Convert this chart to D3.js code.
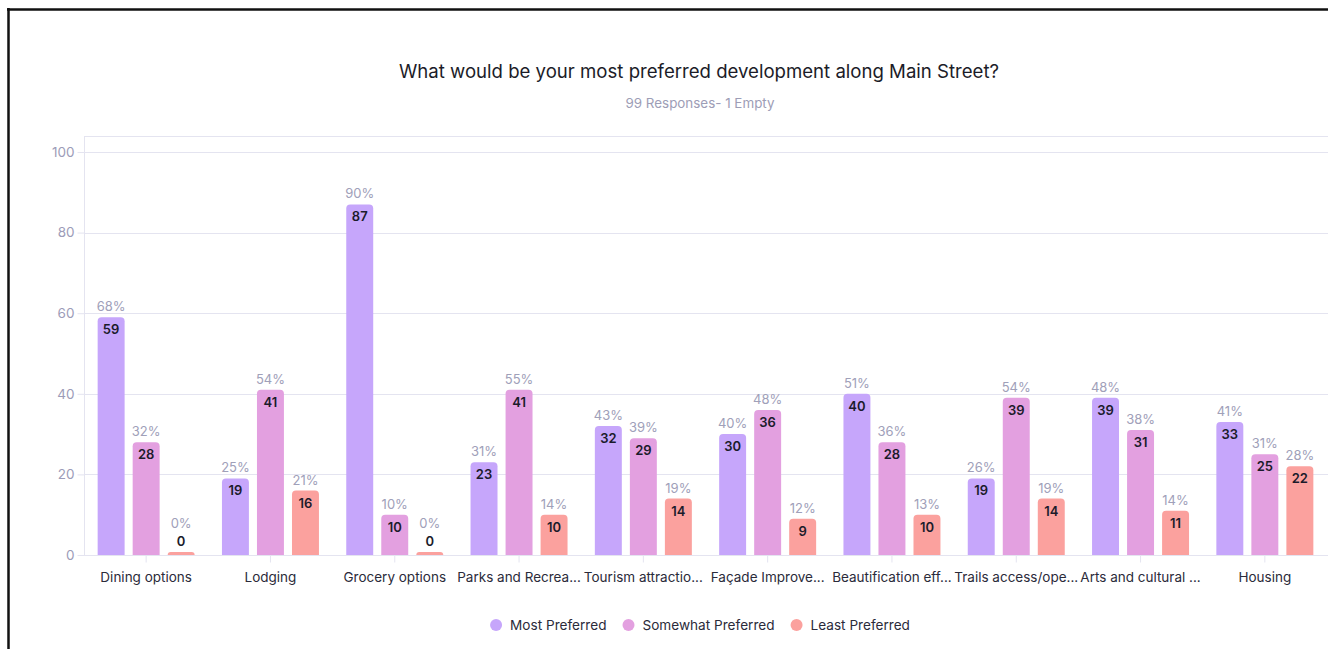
<!DOCTYPE html>
<html>
<head>
<meta charset="utf-8">
<script src="https://cdn.jsdelivr.net/npm/d3@7"></script>
<style>
  html, body { margin: 0; padding: 0; background: #fff; }
  svg { display: block; font-family: Inter, "Noto Sans", sans-serif; }
</style>
</head>
<body>
<div id="chart"></div>
<script>
// Chart data
var categories = ["Dining options", "Lodging", "Grocery options", "Parks and Recrea...",
  "Tourism attractio...", "Façade Improve...", "Beautification eff...",
  "Trails access/ope...", "Arts and cultural ...", "Housing"];
var seriesNames = ["Most Preferred", "Somewhat Preferred", "Least Preferred"];
var mostPreferred = [59, 19, 87, 23, 32, 30, 40, 19, 39, 33];
var somewhatPreferred = [28, 41, 10, 41, 29, 36, 28, 39, 31, 25];
var leastPreferred = [0, 16, 0, 10, 14, 9, 10, 14, 11, 22];
var mostPct = [68, 25, 90, 31, 43, 40, 51, 26, 48, 41];
var somewhatPct = [32, 54, 10, 55, 39, 48, 36, 54, 38, 31];
var leastPct = [0, 21, 0, 14, 19, 12, 13, 19, 14, 28];
var yTicks = [0, 20, 40, 60, 80, 100];
var colors = ["#c6a6fb", "#e3a0e0", "#fba19e"];

var width = 1328, height = 649;
var margin = {left: 84, right: 1, top: 136, bottom: 94};

var values = [mostPreferred, somewhatPreferred, leastPreferred];
var pcts = [mostPct, somewhatPct, leastPct];

var svg = d3.select("#chart").append("svg")
    .attr("width", width)
    .attr("height", height);

// Frame (screenshot border)
svg.append("line")
    .attr("x1", 8.5).attr("x2", 8.5)
    .attr("y1", 8).attr("y2", height)
    .style("stroke", "#111").style("stroke-width", 2.5);
svg.append("line")
    .attr("x1", 7).attr("x2", width)
    .attr("y1", 9.5).attr("y2", 9.5)
    .style("stroke", "#111").style("stroke-width", 2.5);

// Title
svg.append("text")
    .attr("x", 699).attr("y", 78)
    .attr("text-anchor", "middle")
    .style("font-size", "18.6px")
    .style("fill", "#1c1c28")
    .text("What would be your most preferred development along Main Street?");
svg.append("text")
    .attr("x", 700).attr("y", 108)
    .attr("text-anchor", "middle")
    .style("font-size", "13.4px")
    .style("fill", "#9d9db6")
    .text("99 Responses- 1 Empty");

var x0 = d3.scaleBand()
    .domain(categories)
    .range([margin.left, width - margin.right]);

var x1 = d3.scaleBand()
    .domain(d3.range(3))
    .range([-48.5, 48.5])
    .paddingInner(0.23);

var y = d3.scaleLinear()
    .domain([0, 100])
    .range([height - margin.bottom, 152]);

var plotBottom = y(0);

// Grid
var grid = svg.append("g").attr("class", "grid");
grid.selectAll("line")
    .data(yTicks)
  .enter().append("line")
    .attr("x1", margin.left).attr("x2", width)
    .attr("y1", function(d) { return Math.round(y(d)) + 0.5; })
    .attr("y2", function(d) { return Math.round(y(d)) + 0.5; })
    .style("stroke", "#e4e4f0").style("stroke-width", 1);
grid.append("line")
    .attr("x1", margin.left).attr("x2", width)
    .attr("y1", margin.top + 0.5).attr("y2", margin.top + 0.5)
    .style("stroke", "#e4e4f0");

// Y axis
var yAxis = svg.append("g")
    .attr("transform", "translate(" + (margin.left + 0.5) + ",0)")
    .call(d3.axisLeft(y).tickValues(yTicks).tickSize(7).tickPadding(3));
yAxis.select(".domain").remove();
yAxis.append("line")
    .attr("y1", margin.top).attr("y2", plotBottom)
    .style("stroke", "#e4e4f0");
yAxis.selectAll(".tick line").style("stroke", "#e4e4f0");
yAxis.selectAll(".tick text")
    .style("font-size", "13.5px")
    .style("font-family", "Inter, 'Noto Sans', sans-serif")
    .style("fill", "#9c9cb8");

// X axis
var xAxis = svg.append("g")
    .attr("transform", "translate(0," + (Math.round(plotBottom) + 0.5) + ")")
    .call(d3.axisBottom(x0).tickSize(7).tickPadding(10));
xAxis.select(".domain").remove();
xAxis.selectAll(".tick line").style("stroke", "#e4e4f0");
xAxis.selectAll(".tick text")
    .style("font-size", "13.5px")
    .style("font-family", "Inter, 'Noto Sans', sans-serif")
    .style("fill", "#2b2b3a");

// Bars
function barPath(x, top, w, bottom, r) {
  var h = bottom - top;
  r = Math.min(r, h, w / 2);
  return "M" + x + "," + bottom +
    "V" + (top + r) +
    "Q" + x + "," + top + " " + (x + r) + "," + top +
    "H" + (x + w - r) +
    "Q" + (x + w) + "," + top + " " + (x + w) + "," + (top + r) +
    "V" + bottom + "Z";
}

var rows = [];
categories.forEach(function(c, i) {
  for (var s = 0; s < 3; s++) {
    rows.push({cat: c, s: s, v: values[s][i], p: pcts[s][i]});
  }
});

var group = svg.append("g").attr("class", "bars");

var bar = group.selectAll(".bar")
    .data(rows)
  .enter().append("g")
    .attr("class", "bar")
    .attr("transform", function(d) {
      return "translate(" + (x0(d.cat) + x0.bandwidth() / 2 + x1(d.s)) + ",0)";
    });

bar.append("path")
    .attr("d", function(d) {
      var top = Math.min(y(d.v), plotBottom - 3);
      return barPath(0, top, x1.bandwidth(), plotBottom, 4);
    })
    .style("fill", function(d) { return colors[d.s]; });

bar.append("text")
    .attr("x", x1.bandwidth() / 2)
    .attr("y", function(d) {
      var h = plotBottom - y(d.v);
      return h < 20 ? plotBottom - 9 : y(d.v) + 17;
    })
    .attr("text-anchor", "middle")
    .style("font-size", "13px")
    .style("font-weight", 600)
    .style("fill", "#1b1b2b")
    .text(function(d) { return d.v; });

bar.append("text")
    .attr("x", x1.bandwidth() / 2)
    .attr("y", function(d) {
      var h = plotBottom - y(d.v);
      return h < 20 ? plotBottom - 27 : y(d.v) - 6;
    })
    .attr("text-anchor", "middle")
    .style("font-size", "13px")
    .style("fill", "#a0a0b9")
    .text(function(d) { return d.p + "%"; });

// Legend
var legend = svg.append("g").attr("class", "legend");
var item = legend.selectAll(".item")
    .data(seriesNames)
  .enter().append("g")
    .attr("class", "item");
item.append("circle")
    .attr("r", 6)
    .attr("cx", 6)
    .attr("cy", 0)
    .style("fill", function(d, i) { return colors[i]; });
item.append("text")
    .attr("x", 20)
    .attr("y", 5)
    .style("font-size", "13.6px")
    .style("fill", "#2b2b3a")
    .text(function(d) { return d; });

var offset = 0;
item.each(function() {
  var g = d3.select(this);
  g.attr("transform", "translate(" + offset + ",0)");
  offset += 20 + g.select("text").node().getComputedTextLength() + 16;
});
offset -= 16;
legend.attr("transform", "translate(" + (700 - offset / 2) + ",625)");
</script>
</body>
</html>
